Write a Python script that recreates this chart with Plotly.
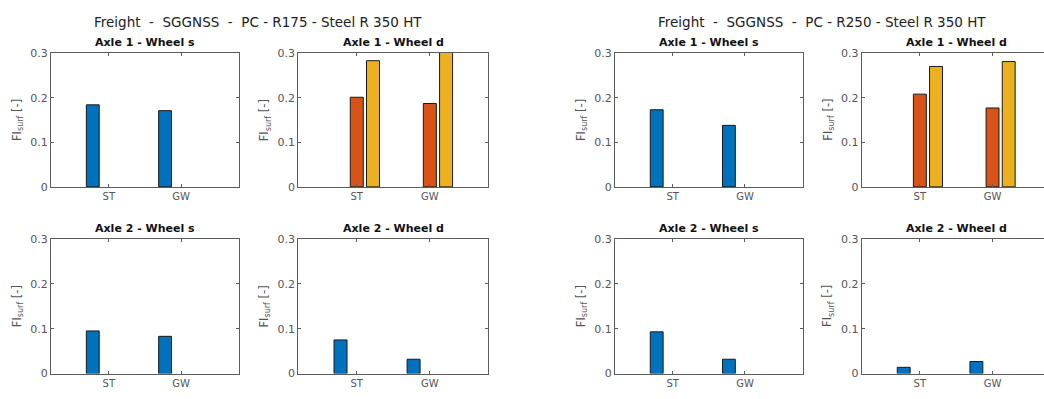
import plotly.graph_objects as go

W, H = 1044, 399

categories = ["ST", "GW"]

# FI_surf values per panel: (blue, orange, yellow) series; None = no bar
r175_a1_s = {"blue": [0.184, 0.171], "orange": [None, None], "yellow": [None, None]}
r175_a1_d = {"blue": [None, None], "orange": [0.201, 0.187], "yellow": [0.283, 0.310]}
r175_a2_s = {"blue": [0.095, 0.083], "orange": [None, None], "yellow": [None, None]}
r175_a2_d = {"blue": [0.075, 0.032], "orange": [None, None], "yellow": [None, None]}

r250_a1_s = {"blue": [0.173, 0.138], "orange": [None, None], "yellow": [None, None]}
r250_a1_d = {"blue": [None, None], "orange": [0.208, 0.177], "yellow": [0.270, 0.281]}
r250_a2_s = {"blue": [0.093, 0.032], "orange": [None, None], "yellow": [None, None]}
r250_a2_d = {"blue": [0.014, 0.027], "orange": [None, None], "yellow": [None, None]}

suptitles = ["Freight  -  SGGNSS  -  PC - R175 - Steel R 350 HT",
             "Freight  -  SGGNSS  -  PC - R250 - Steel R 350 HT"]
panel_titles = ["Axle 1 - Wheel s", "Axle 1 - Wheel d",
                "Axle 2 - Wheel s", "Axle 2 - Wheel d"]
y_ticks = [0, 0.1, 0.2, 0.3]
y_tick_text = ["0", "0.1", "0.2", "0.3"]
y_label = "FI<sub>surf</sub> [-]"

colors = {"blue": "#0072BD", "orange": "#D95319", "yellow": "#EDB120"}
FONT = "DejaVu Sans"
AX_COLOR = "#5c5c5c"
LBL_COLOR = "#555555"

# layout in pixels (left, right) for each column, (top, bottom) for each row
cols_px = [(51, 239), (298.3, 488.3), (615, 802.7), (861.7, 1050.7)]
rows_px = [(48.7, 187), (240.7, 380)]
x_full = [-0.8, 1.8]

panels = [
    (0, 0, r175_a1_s, 0), (0, 1, r175_a1_d, 1), (1, 0, r175_a2_s, 2), (1, 1, r175_a2_d, 3),
    (0, 2, r250_a1_s, 0), (0, 3, r250_a1_d, 1), (1, 2, r250_a2_s, 2), (1, 3, r250_a2_d, 3),
]

fig = go.Figure()
annotations = []

for i, (r, c, data, t) in enumerate(panels, start=1):
    xa = "x" if i == 1 else f"x{i}"
    ya = "y" if i == 1 else f"y{i}"
    for key in ["blue", "orange", "yellow"]:
        fig.add_trace(go.Bar(
            x=categories, y=data[key], xaxis=xa, yaxis=ya,
            marker=dict(color=colors[key], line=dict(color="#1a1a1a", width=1)),
            showlegend=False, offsetgroup=key,
        ))
    x0, x1 = cols_px[c]
    y0, y1 = rows_px[r]
    vis_x1 = min(x1, W)
    frac = (vis_x1 - x0) / (x1 - x0)
    xr = [x_full[0], x_full[0] + (x_full[1] - x_full[0]) * frac]
    clipped = vis_x1 < x1
    xkey = "xaxis" if i == 1 else f"xaxis{i}"
    ykey = "yaxis" if i == 1 else f"yaxis{i}"
    fig.update_layout({
        xkey: dict(domain=[x0 / W, vis_x1 / W], anchor=ya, range=xr,
                   type="category", showline=True, linecolor=AX_COLOR, linewidth=1,
                   mirror="ticks", ticks="inside", ticklen=3, tickcolor=AX_COLOR,
                   showgrid=False, zeroline=False,
                   tickfont=dict(family=FONT, size=10, color=LBL_COLOR)),
        ykey: dict(domain=[1 - y1 / H, 1 - y0 / H], anchor=xa, range=[0, 0.3],
                   tickvals=y_ticks, ticktext=y_tick_text,
                   showline=True, linecolor=AX_COLOR, linewidth=1,
                   mirror=False if clipped else "ticks",
                   ticks="inside", ticklen=3, tickcolor=AX_COLOR,
                   showgrid=False, zeroline=False,
                   tickfont=dict(family=FONT, size=11, color=LBL_COLOR)),
    })
    annotations.append(dict(
        text=f"<b>{panel_titles[t]}</b>", x=(x0 + x1) / 2 / W, y=1 - (y0 - 10.5) / H,
        xref="paper", yref="paper", xanchor="center", yanchor="middle", showarrow=False,
        font=dict(family=FONT, size=11, color="#111111"),
    ))
    annotations.append(dict(
        text=y_label, x=x0 / W, xshift=-34, y=1 - (y0 + y1) / 2 / H,
        xref="paper", yref="paper", xanchor="center", yanchor="middle", showarrow=False,
        textangle=-90, font=dict(family=FONT, size=11.5, color=LBL_COLOR),
    ))

for cx, txt in zip([258, 822], suptitles):
    annotations.append(dict(
        text=txt, x=cx / W, y=1 - 17 / H, xref="paper", yref="paper",
        xanchor="center", yanchor="middle", showarrow=False,
        font=dict(family=FONT, size=13.5, color="#222222"),
    ))

fig.update_layout(
    width=W, height=H, margin=dict(l=0, r=0, t=0, b=0),
    paper_bgcolor="white", plot_bgcolor="white",
    barmode="group", bargap=1 / 3, bargroupgap=0.2,
    annotations=annotations,
)

fig.write_html("out.html")
